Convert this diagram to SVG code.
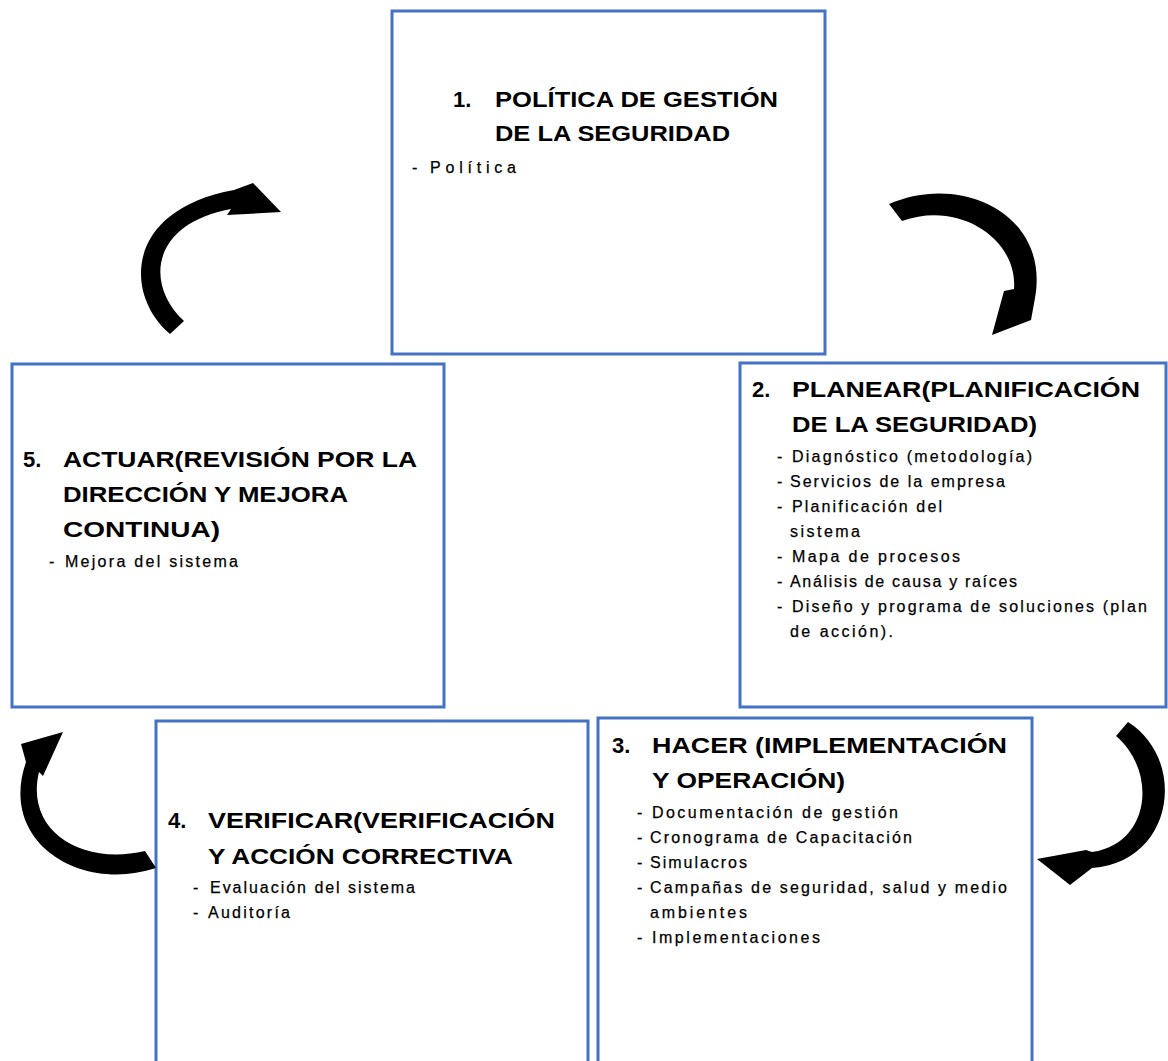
<svg xmlns="http://www.w3.org/2000/svg" width="1168" height="1061" viewBox="0 0 1168 1061">
<style>
.box{fill:#fff;stroke:#4472C4;stroke-width:3}
.t{font-family:"Liberation Sans",Arial,sans-serif;font-weight:bold;font-size:22px;fill:#000}
.i{font-family:"Liberation Sans",Arial,sans-serif;font-size:16px;fill:#000;stroke:#000;stroke-width:0.25}
.arr{fill:#000}
</style>
<rect width="1168" height="1061" fill="#fff"/>
<g id="node1">
<rect class="box" x="392" y="11" width="433" height="343"/>
<text class="t" x="453" y="107">1.</text>
<text class="t" x="495" y="107" textLength="283" lengthAdjust="spacingAndGlyphs">POLÍTICA DE GESTIÓN</text>
<text class="t" x="495" y="141" textLength="235" lengthAdjust="spacingAndGlyphs">DE LA SEGURIDAD</text>
<text class="i" x="412" y="173" font-size="17">-</text>
<text class="i" x="430" y="173" font-size="17" textLength="86" lengthAdjust="spacing">Política</text>
</g>
<g id="node2">
<rect class="box" x="740" y="363" width="426" height="344"/>
<text class="t" x="752" y="397">2.</text>
<text class="t" x="792" y="397" textLength="348" lengthAdjust="spacingAndGlyphs">PLANEAR(PLANIFICACIÓN</text>
<text class="t" x="792" y="432" textLength="245" lengthAdjust="spacingAndGlyphs">DE LA SEGURIDAD)</text>
<text class="i" x="777" y="462">-</text>
<text class="i" x="792" y="462" textLength="240" lengthAdjust="spacing">Diagnóstico (metodología)</text>
<text class="i" x="777" y="487">-</text>
<text class="i" x="790" y="487" textLength="215" lengthAdjust="spacing">Servicios de la empresa</text>
<text class="i" x="777" y="512">-</text>
<text class="i" x="792" y="512" textLength="150" lengthAdjust="spacing">Planificación del</text>
<text class="i" x="790" y="537" textLength="70" lengthAdjust="spacing">sistema</text>
<text class="i" x="777" y="562">-</text>
<text class="i" x="792" y="562" textLength="168" lengthAdjust="spacing">Mapa de procesos</text>
<text class="i" x="777" y="587">-</text>
<text class="i" x="790" y="587" textLength="227" lengthAdjust="spacing">Análisis de causa y raíces</text>
<text class="i" x="777" y="612">-</text>
<text class="i" x="792" y="612" textLength="355" lengthAdjust="spacing">Diseño y programa de soluciones (plan</text>
<text class="i" x="790" y="637" textLength="103" lengthAdjust="spacing">de acción).</text>
</g>
<g id="node3">
<rect class="box" x="598" y="718" width="434" height="360"/>
<text class="t" x="612" y="753">3.</text>
<text class="t" x="652" y="753" textLength="355" lengthAdjust="spacingAndGlyphs">HACER (IMPLEMENTACIÓN</text>
<text class="t" x="652" y="788" textLength="193" lengthAdjust="spacingAndGlyphs">Y OPERACIÓN)</text>
<text class="i" x="637" y="818">-</text>
<text class="i" x="652" y="818" textLength="246" lengthAdjust="spacing">Documentación de gestión</text>
<text class="i" x="637" y="843">-</text>
<text class="i" x="650" y="843" textLength="262" lengthAdjust="spacing">Cronograma de Capacitación</text>
<text class="i" x="637" y="868">-</text>
<text class="i" x="650" y="868" textLength="97" lengthAdjust="spacing">Simulacros</text>
<text class="i" x="637" y="893">-</text>
<text class="i" x="650" y="893" textLength="357" lengthAdjust="spacing">Campañas de seguridad, salud y medio</text>
<text class="i" x="650" y="918" textLength="97" lengthAdjust="spacing">ambientes</text>
<text class="i" x="637" y="943">-</text>
<text class="i" x="652" y="943" textLength="168" lengthAdjust="spacing">Implementaciones</text>
</g>
<g id="node4">
<rect class="box" x="156" y="721" width="432" height="360"/>
<text class="t" x="168" y="828">4.</text>
<text class="t" x="208" y="828" textLength="347" lengthAdjust="spacingAndGlyphs">VERIFICAR(VERIFICACIÓN</text>
<text class="t" x="208" y="864" textLength="305" lengthAdjust="spacingAndGlyphs">Y ACCIÓN CORRECTIVA</text>
<text class="i" x="193" y="893">-</text>
<text class="i" x="210" y="893" textLength="205" lengthAdjust="spacing">Evaluación del sistema</text>
<text class="i" x="193" y="918">-</text>
<text class="i" x="208" y="918" textLength="82" lengthAdjust="spacing">Auditoría</text>
</g>
<g id="node5">
<rect class="box" x="12" y="364" width="432" height="343"/>
<text class="t" x="23" y="467">5.</text>
<text class="t" x="63" y="467" textLength="354" lengthAdjust="spacingAndGlyphs">ACTUAR(REVISIÓN POR LA</text>
<text class="t" x="63" y="502" textLength="285" lengthAdjust="spacingAndGlyphs">DIRECCIÓN Y MEJORA</text>
<text class="t" x="63" y="537" textLength="157" lengthAdjust="spacingAndGlyphs">CONTINUA)</text>
<text class="i" x="49" y="567">-</text>
<text class="i" x="65" y="567" textLength="173" lengthAdjust="spacing">Mejora del sistema</text>
</g>
<g id="connectors">
<path class="arr" d="M170,334 C124,295 124,210 234,190 L253,183 L281,212 L227,215 L231,209 C150,224 145,285 184,321 Z"/>
<path class="arr" d="M889,204 C962,172 1050,215 1035,298 L1031,320 L992,335 L1004,291 L1014,289 C1018,240 960,200 902,221 Z"/>
<path class="arr" d="M1128,722 C1188,760 1174,862 1092,868 L1070,885 L1037,859 L1086,850 L1092,852 C1150,844 1158,772 1116,736 Z"/>
<path class="arr" d="M156,868 C80,893 -2,842 26,762 L21,744 L63,732 L43,776 L39,772 C25,830 80,866 145,851 Z"/>
</g>
</svg>
